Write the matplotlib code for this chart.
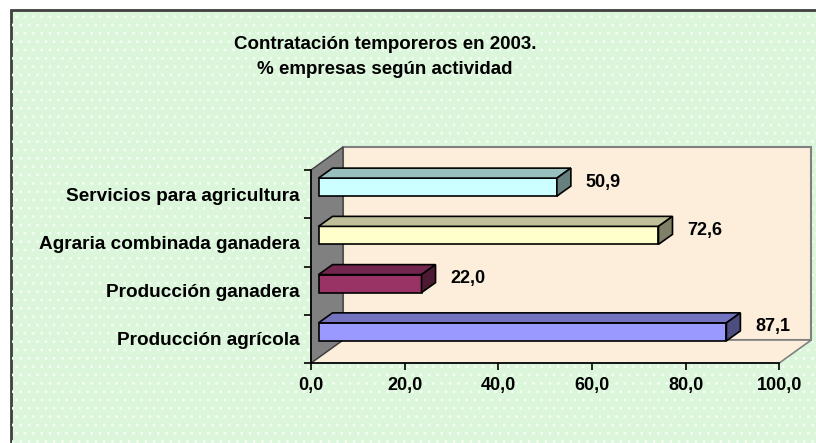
import matplotlib
matplotlib.use('Agg')
import matplotlib.pyplot as plt
from matplotlib.patches import Polygon, Rectangle
from matplotlib.transforms import Affine2D

plt.rcParams['font.family'] = ['Liberation Sans', 'DejaVu Sans']

categorias = ['Producción agrícola', 'Producción ganadera',
              'Agraria combinada ganadera', 'Servicios para agricultura']
valores = [87.1, 22.0, 72.6, 50.9]
col_frente = ['#9999FF', '#993366', '#FFFFCC', '#CCFFFF']
col_arriba = ['#7373C0', '#73264D', '#BFBF99', '#99BFBF']
col_lado = ['#4D4D80', '#4D1A33', '#808066', '#668080']
ticks_x = [0, 20, 40, 60, 80, 100]
titulo = 'Contratación temporeros en 2003.\n% empresas según actividad'

W, H = 816, 443
fig = plt.figure(figsize=(W / 100, H / 100), dpi=100, facecolor='white')

# fondo verde con marco y textura de puntos
fig.patches.append(Rectangle((11 / W, -0.05), 1.1, (H - 10) / H + 0.05, transform=fig.transFigure,
                             facecolor='#DCF6DC', edgecolor='#404040', lw=2, zorder=0))
plt.rcParams['hatch.linewidth'] = 0.8
fig.patches.append(Rectangle((12 / W, -0.05), 1.1, (H - 11) / H + 0.05, transform=fig.transFigure,
                             facecolor='none', edgecolor='#F4FFF4', hatch='..', lw=0, zorder=0.5))

ax = fig.add_axes([311 / W, (H - 363) / H, (779.3 - 311) / W, (363 - 170) / H])
ax.set_xlim(0, 100)
ax.set_ylim(-0.5, len(categorias) - 0.5)
ax.patch.set_visible(False)
ax.set_zorder(10)

dx, dy = 32, 23      # profundidad de las paredes (px)
bx, by = 7.5, 7      # desplazamiento de las barras
px, py = 14, 10      # profundidad de cada barra
alto = 0.373

# paredes
(x0, y0), (x1, y1) = ax.transAxes.transform([(0, 0), (1, 1)])
pared = Polygon([(x0 + dx, y0 + dy), (x1 + dx, y0 + dy), (x1 + dx, y1 + dy), (x0 + dx, y1 + dy)],
                closed=True, transform=None, facecolor='#FCEEDB', edgecolor='#808080', lw=1.5, zorder=1)
suelo = Polygon([(x0, y0), (x1, y0), (x1 + dx, y0 + dy), (x0 + dx, y0 + dy)],
                closed=True, transform=None, facecolor='#FCEEDB', edgecolor='#808080', lw=1.2, zorder=1)
lado = Polygon([(x0, y0), (x0, y1), (x0 + dx, y1 + dy), (x0 + dx, y0 + dy)],
               closed=True, transform=None, facecolor='#808080', edgecolor='#404040', lw=1, zorder=1)
for p in (pared, suelo, lado):
    fig.patches.append(p)

# barras 3D
for i, v in enumerate(valores):
    tr = ax.transData + Affine2D().translate(bx, by)
    (a, b), (c, d) = tr.transform([(0, i - alto / 2), (v, i + alto / 2)])
    frente = Polygon([(a, b), (c, b), (c, d), (a, d)], transform=None,
                     facecolor=col_frente[i], edgecolor='black', lw=1.2, zorder=2)
    arriba = Polygon([(a, d), (c, d), (c + px, d + py), (a + px, d + py)], transform=None,
                     facecolor=col_arriba[i], edgecolor='black', lw=1.2, zorder=2)
    derecha = Polygon([(c, b), (c + px, b + py), (c + px, d + py), (c, d)], transform=None,
                      facecolor=col_lado[i], edgecolor='black', lw=1.2, zorder=2)
    for p in (frente, arriba, derecha):
        fig.patches.append(p)
    ax.annotate(f'{v:.1f}'.replace('.', ','), (v, i), xytext=(bx + 29, 12),
                textcoords='offset pixels', ha='left', va='center',
                fontsize=13, fontweight='bold')

for s in ('top', 'right'):
    ax.spines[s].set_visible(False)
for s in ('left', 'bottom'):
    ax.spines[s].set_color('black')
    ax.spines[s].set_linewidth(1.2)

ax.set_xticks(ticks_x)
ax.set_xticklabels([f'{t:.1f}'.replace('.', ',') for t in ticks_x],
                   fontsize=13, fontweight='bold')
ax.tick_params(axis='x', direction='out', length=5, width=1.2, pad=5)

ax.set_yticks(range(len(categorias)))
ax.set_yticklabels(categorias, fontsize=13.7, fontweight='bold')
ax.set_yticks([k - 0.5 for k in range(len(categorias) + 1)], minor=True)
ax.tick_params(axis='y', which='major', length=0, pad=8)
ax.tick_params(axis='y', which='minor', direction='out', length=5, width=1.2)

fig.text(385 / W, 1 - 57 / H, titulo, ha='center', va='center',
         fontsize=13.5, fontweight='bold', linespacing=1.65)

fig.savefig('out.png', dpi=100, facecolor='white')
